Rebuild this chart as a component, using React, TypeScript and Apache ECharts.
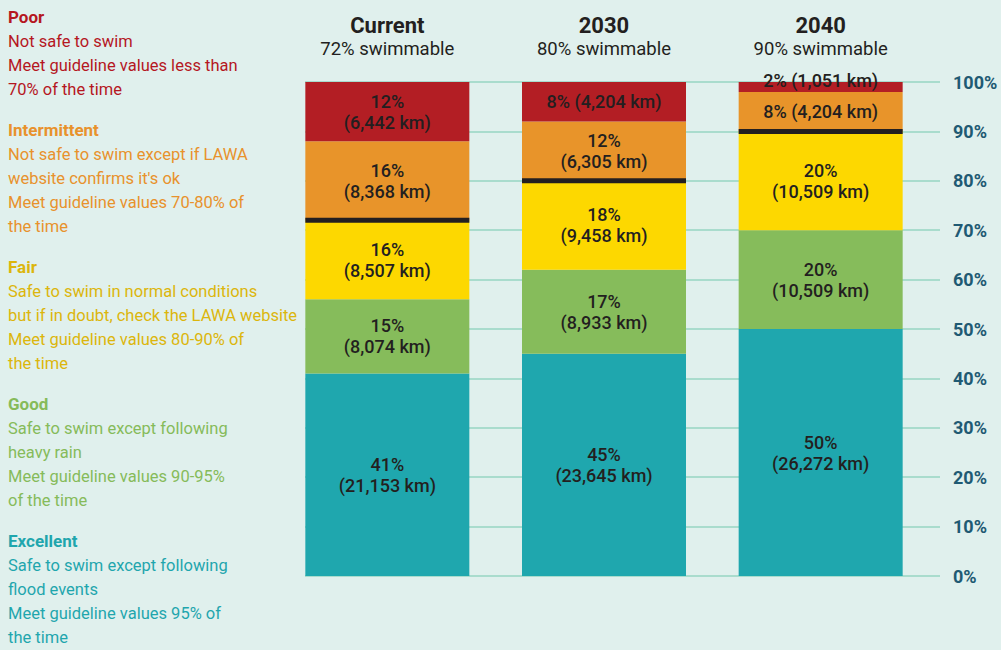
import React, { useEffect, useRef } from "react";
import * as echarts from "echarts";

const periods = ["Current", "2030", "2040"];
const swimmable = [72, 80, 90];
const levels = ["Excellent", "Good", "Fair", "Intermittent", "Poor"];
const excellentPct = [41, 45, 50];
const goodPct = [15, 17, 20];
const fairPct = [16, 18, 20];
const intermittentPct = [16, 12, 8];
const poorPct = [12, 8, 2];
const excellentKm = ["21,153", "23,645", "26,272"];
const goodKm = ["8,074", "8,933", "10,509"];
const fairKm = ["8,507", "9,458", "10,509"];
const intermittentKm = ["8,368", "6,305", "4,204"];
const poorKm = ["6,442", "4,204", "1,051"];
const yTicks = [0, 10, 20, 30, 40, 50, 60, 70, 80, 90, 100];

const legendBlocks = [
  { title: "Poor", lines: ["Not safe to swim", "Meet guideline values less than", "70% of the time"] },
  { title: "Intermittent", lines: ["Not safe to swim except if LAWA", "website confirms it's ok", "Meet guideline values 70-80% of", "the time"] },
  { title: "Fair", lines: ["Safe to swim in normal conditions", "but if in doubt, check the LAWA website", "Meet guideline values 80-90% of", "the time"] },
  { title: "Good", lines: ["Safe to swim except following", "heavy rain", "Meet guideline values 90-95%", "of the time"] },
  { title: "Excellent", lines: ["Safe to swim except following", "flood events", "Meet guideline values 95% of", "the time"] },
];

const barColors: Record<string, string> = {
  Excellent: "#1fa7ae",
  Good: "#86bc5b",
  Fair: "#fdd800",
  Intermittent: "#e8942a",
  Poor: "#b31e24",
};
const textColors: Record<string, string> = {
  Poor: "#b5171f",
  Intermittent: "#e8922c",
  Fair: "#dcb60c",
  Good: "#86bb5a",
  Excellent: "#1fa6ad",
};

const FONT = "Roboto, 'Noto Sans', sans-serif";

export default function App() {
  const ref = useRef<HTMLDivElement>(null);
  useEffect(() => {
    if (!ref.current) return;
    const chart = echarts.init(ref.current, undefined, { renderer: "svg" });

    const pctMap: Record<string, number[]> = {
      Excellent: excellentPct,
      Good: goodPct,
      Fair: fairPct,
      Intermittent: intermittentPct,
      Poor: poorPct,
    };
    const kmMap: Record<string, string[]> = {
      Excellent: excellentKm,
      Good: goodKm,
      Fair: fairKm,
      Intermittent: intermittentKm,
      Poor: poorKm,
    };

    const barSeries = levels.map((lv) => ({
      type: "bar",
      name: lv,
      stack: "total",
      xAxisIndex: 1,
      yAxisIndex: 1,
      barWidth: 164,
      itemStyle: { color: barColors[lv] },
      z: 3,
      data: pctMap[lv].map((v, i) => ({
        value: v,
        km: kmMap[lv][i],
        label: v < 5 ? { offset: [0, -6] } : undefined,
      })),
      label: {
        show: true,
        position: "inside",
        color: "#231f20",
        fontFamily: FONT,
        fontSize: 18,
        fontWeight: 500,
        lineHeight: 21,
        formatter: (p: any) =>
          p.value < 10
            ? `${p.value}% (${p.data.km} km)`
            : `${p.value}%\n(${p.data.km} km)`,
      },
    }));

    let y = 5;
    const graphics: any[] = [];
    legendBlocks.forEach((b) => {
      graphics.push({
        type: "text",
        left: 8,
        top: y,
        style: {
          text: b.title,
          fill: textColors[b.title],
          font: `bold 17px ${FONT}`,
          lineHeight: 24,
        },
      });
      graphics.push({
        type: "text",
        left: 8,
        top: y + 24,
        style: {
          text: b.lines.join("\n"),
          fill: textColors[b.title],
          font: `16.5px ${FONT}`,
          lineHeight: 24,
        },
      });
      y += 24 * b.lines.length + 41;
    });

    chart.setOption({
      animation: false,
      backgroundColor: "#e0f0ed",
      graphic: graphics,
      grid: [
        { left: 305, width: 635, top: 82, height: 494 },
        { left: 279, width: 650, top: 82, height: 494 },
      ],
      xAxis: [
        { type: "category", gridIndex: 0, data: periods, show: false },
        {
          type: "category",
          gridIndex: 1,
          data: periods,
          position: "top",
          axisLine: { show: false },
          axisTick: { show: false },
          axisLabel: {
            margin: 21,
            formatter: (v: string, i: number) => `{t|${v}}\n{s|${swimmable[i]}% swimmable}`,
            rich: {
              t: { fontFamily: FONT, fontSize: 22, fontWeight: "bold", color: "#231f20", lineHeight: 24 },
              s: { fontFamily: FONT, fontSize: 18.5, color: "#231f20", lineHeight: 24 },
            },
          },
        },
      ],
      yAxis: [
        {
          type: "value",
          gridIndex: 0,
          min: yTicks[0],
          max: yTicks[yTicks.length - 1],
          interval: 10,
          position: "right",
          axisLine: { show: false },
          axisTick: { show: false },
          splitLine: { show: true, lineStyle: { color: "#a9dccd", width: 2 } },
          axisLabel: {
            margin: 13,
            formatter: "{value}%",
            color: "#1f5a73",
            fontFamily: FONT,
            fontSize: 18,
            fontWeight: "bold",
          },
        },
        { type: "value", gridIndex: 1, min: 0, max: 100, show: false },
      ],
      series: [
        ...barSeries,
        {
          type: "custom",
          xAxisIndex: 1,
          yAxisIndex: 1,
          z: 5,
          data: swimmable.map((v, i) => [i, v]),
          renderItem: (params: any, api: any) => {
            const pt = api.coord([api.value(0), api.value(1)]);
            return {
              type: "rect",
              shape: { x: pt[0] - 82, y: pt[1] - 2.5, width: 164, height: 5 },
              style: { fill: "#231f20" },
            };
          },
        },
      ],
    });
    return () => chart.dispose();
  }, []);
  return (
    <div
      ref={ref}
      style={{ position: "absolute", left: 0, top: 0, width: 1001, height: 650 }}
    />
  );
}
